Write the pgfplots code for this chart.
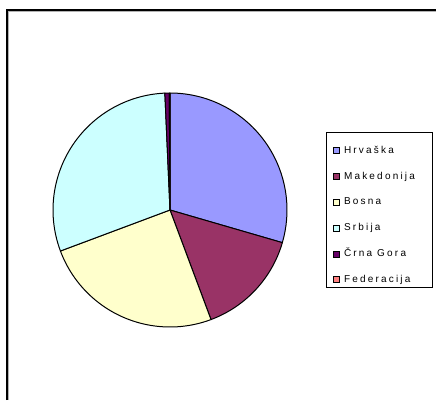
\documentclass[border=0pt]{standalone}
\usepackage{pgfplots}
\pgfplotsset{compat=1.18}
\usepackage{pgfplotstable}
\usepackage{fontspec}
\setmainfont{Liberation Sans}
\newfontfamily\lgfont[LetterSpace=22]{Liberation Sans}

\definecolor{hrv}{HTML}{9999FF}
\definecolor{mak}{HTML}{993366}
\definecolor{bos}{HTML}{FFFFCC}
\definecolor{srb}{HTML}{CCFFFF}
\definecolor{cgo}{HTML}{660066}
\definecolor{fed}{HTML}{FF8080}

% share of each republic (percent), clockwise from 12 o'clock
\pgfplotstableread[col sep=comma]{
name,val,col
Hrvaška,29.5,hrv
Makedonija,14.8,mak
Bosna,25.0,bos
Srbija,30.0,srb
Črna Gora,0.6,cgo
Federacija,0.1,fed
}\piedata

\begin{document}
\begin{tikzpicture}
\begin{axis}[
    scale only axis,
    width=436pt, height=400pt,
    xmin=0, xmax=436, ymin=0, ymax=400,
    hide axis,
    legend image code/.code={\draw[#1, draw=black, line width=0.8pt] (0pt,-3pt) rectangle (6pt,3pt);},
    legend style={
        at={(axis cs:333,255)}, anchor=north west,
        draw=none, fill=none, inner sep=0pt,
        row sep=14.8pt,
        font=\lgfont\fontsize{10}{12}\selectfont,
        nodes={inner sep=0pt, text height=8pt, text depth=3pt},
        /tikz/every odd column/.style={column sep=4pt},
    },
    legend cell align=left,
]
\coordinate (ll) at (axis cs:0,0);
\coordinate (ur) at (axis cs:436,400);
% chart area frame (cut at right and bottom)
\draw[black, line width=2pt] (axis cs:7,0) -- (axis cs:7,390) -- (axis cs:436,390);
\draw[gray!60, line width=1pt] (axis cs:8.5,0) -- (axis cs:8.5,388.5) -- (axis cs:436,388.5);

\pgfplotstablegetrowsof{\piedata}
\pgfmathtruncatemacro\last{\pgfplotsretval-1}
\def\cum{0}
\pgfplotsforeachungrouped \i in {0,...,\last}{
  \pgfplotstablegetelem{\i}{val}\of\piedata \let\v\pgfplotsretval
  \pgfplotstablegetelem{\i}{col}\of\piedata \let\c\pgfplotsretval
  \pgfplotstablegetelem{\i}{name}\of\piedata \let\n\pgfplotsretval
  \pgfmathsetmacro\a{90-3.6*\cum}
  \pgfmathsetmacro\b{90-3.6*(\cum+\v)}
  \edef\temp{\noexpand\filldraw[fill=\c, draw=black, line width=1pt, line join=round]
    (axis cs:170,190) -- ++(\a:117pt) arc[start angle=\a, end angle=\b, radius=117pt] -- cycle;
    \noexpand\addlegendimage{fill=\c}\noexpand\addlegendentry{\n}}
  \temp
  \pgfmathsetmacro\cum{\cum+\v}
}

% legend box
\draw[black, line width=1pt] (axis cs:326,268) rectangle (axis cs:432,113);
\end{axis}
\pgfresetboundingbox
\path[use as bounding box] (ll) rectangle (ur);
\end{tikzpicture}
\end{document}
